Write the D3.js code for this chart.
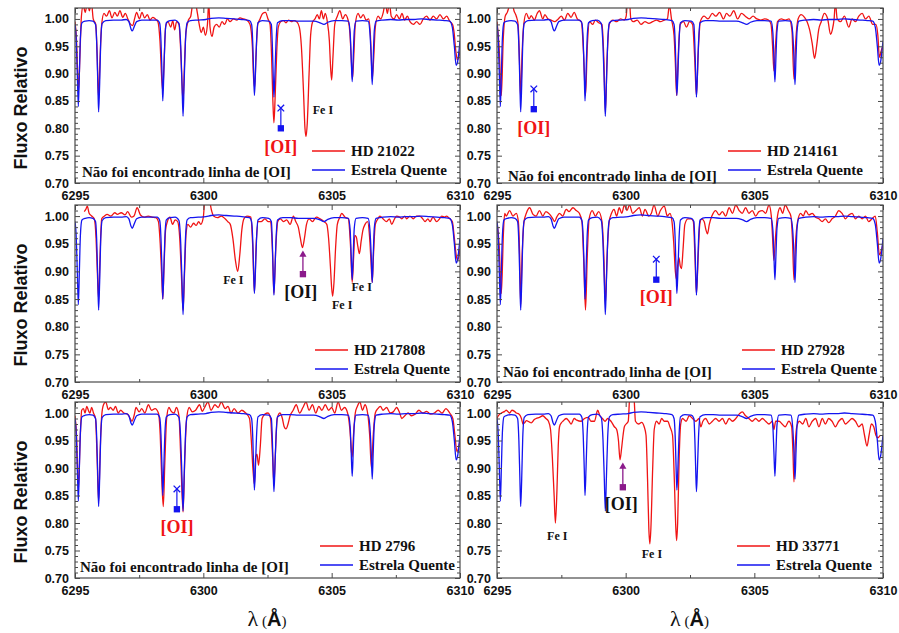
<!DOCTYPE html>
<html>
<head>
<meta charset="utf-8">
<script src="https://cdn.jsdelivr.net/npm/d3@7"></script>
<style>
  html, body { margin: 0; padding: 0; background: #fff; }
  svg { display: block; }
</style>
</head>
<body>
<svg id="chart" width="899" height="633"></svg>
<script>
// ---------------- DATA ----------------
const wavelengthTicks = [6295, 6300, 6305, 6310];
const wavelengthMinorTicks = [6297.5, 6302.5, 6307.5];
const fluxTicks = [0.70, 0.75, 0.80, 0.85, 0.90, 0.95, 1.00];
const starNames = ["HD 21022", "HD 214161", "HD 217808", "HD 27928", "HD 2796", "HD 33771"];
const hotStarName = "Estrela Quente";
const notFoundText = "Não foi encontrado linha de [OI]";
const notFoundPanels = [true, true, false, true, true, false];

// Hot star (telluric reference) spectrum: [wavelength, relative flux]
const hotStar = [
 [6295.00,0.990],[6295.05,0.960],[6295.09,0.900],[6295.13,0.840],[6295.17,0.900],[6295.21,0.965],[6295.27,0.993],
 [6295.40,0.996],[6295.55,0.997],[6295.70,0.996],[6295.80,0.990],[6295.85,0.950],[6295.89,0.880],[6295.92,0.830],
 [6295.96,0.880],[6296.00,0.955],[6296.06,0.992],[6296.20,0.997],[6296.50,0.998],[6296.80,0.998],[6297.00,0.999],
 [6297.10,0.995],[6297.18,0.982],[6297.23,0.978],[6297.30,0.985],[6297.40,0.995],[6297.60,0.998],[6297.90,0.998],
 [6298.20,0.998],[6298.30,0.992],[6298.35,0.960],[6298.39,0.900],[6298.42,0.850],[6298.46,0.900],[6298.50,0.960],
 [6298.56,0.993],[6298.70,0.997],[6298.90,0.998],[6299.05,0.992],[6299.12,0.950],[6299.17,0.880],[6299.21,0.822],
 [6299.25,0.880],[6299.30,0.955],[6299.37,0.993],[6299.50,0.997],[6299.80,0.998],[6300.10,0.999],[6300.30,1.001],
 [6300.60,1.002],[6300.90,1.001],[6301.20,1.000],[6301.50,0.999],[6301.80,0.997],[6301.88,0.990],[6301.93,0.950],
 [6301.96,0.900],[6301.99,0.860],[6302.03,0.900],[6302.07,0.955],[6302.13,0.993],[6302.30,0.997],[6302.55,0.996],
 [6302.65,0.990],[6302.69,0.950],[6302.72,0.900],[6302.75,0.857],[6302.79,0.900],[6302.83,0.955],[6302.89,0.993],
 [6303.10,0.997],[6303.40,0.997],[6303.70,0.996],[6304.00,0.996],[6304.30,0.996],[6304.55,0.993],[6304.70,0.990],
 [6304.85,0.994],[6305.10,0.997],[6305.40,0.997],[6305.65,0.996],[6305.72,0.975],[6305.76,0.930],[6305.80,0.885],
 [6305.84,0.930],[6305.88,0.978],[6305.95,0.996],[6306.20,0.997],[6306.42,0.996],[6306.49,0.975],[6306.54,0.930],
 [6306.58,0.880],[6306.62,0.930],[6306.66,0.978],[6306.73,0.996],[6307.00,0.998],[6307.30,0.999],[6307.60,0.998],
 [6307.90,0.999],[6308.20,0.999],[6308.50,1.000],[6308.80,0.999],[6309.10,0.998],[6309.40,0.997],[6309.60,0.996],
 [6309.70,0.985],[6309.78,0.950],[6309.85,0.915],[6309.90,0.920],[6310.00,0.960]
];

const hd21022 = [
 [6295.00,0.995],[6295.06,0.96],[6295.12,0.88],[6295.14,0.87],[6295.19,0.93],[6295.25,1.005],[6295.32,1.025],
 [6295.40,1.012],[6295.48,1.03],[6295.56,1.015],[6295.64,1.03],[6295.71,1.0],[6295.81,0.99],[6295.86,0.94],
 [6295.92,0.855],[6295.97,0.92],[6296.04,0.99],[6296.13,1.01],[6296.23,1.005],[6296.34,1.015],[6296.44,1.002],
 [6296.55,1.012],[6296.65,1.005],[6296.75,1.015],[6296.86,1.003],[6296.96,1.01],[6297.06,1.0],[6297.17,0.99],
 [6297.25,0.988],[6297.32,1.0],[6297.40,1.012],[6297.51,1.0],[6297.61,1.012],[6297.71,1.002],[6297.82,1.008],
 [6297.92,0.998],[6298.03,1.003],[6298.13,1.0],[6298.23,0.995],[6298.31,0.96],[6298.38,0.89],[6298.42,0.868],
 [6298.47,0.92],[6298.53,0.985],[6298.62,0.995],[6298.73,0.985],[6298.81,0.997],[6298.88,0.98],[6298.96,0.995],
 [6299.05,0.99],[6299.12,0.94],[6299.18,0.87],[6299.21,0.85],[6299.26,0.91],[6299.32,0.975],[6299.42,0.998],
 [6299.51,1.005],[6299.58,1.025],[6299.68,1.03],[6299.77,1.01],[6299.84,0.99],[6299.92,0.975],[6300.00,0.985],
 [6300.08,0.97],[6300.16,0.99],[6300.21,1.03],[6300.26,0.985],[6300.34,0.968],[6300.42,0.985],[6300.52,0.99],
 [6300.62,0.985],[6300.73,0.995],[6300.83,0.99],[6300.94,1.0],[6301.04,0.995],[6301.17,1.0],[6301.30,0.998],
 [6301.43,1.002],[6301.56,1.0],[6301.69,0.998],[6301.82,0.99],[6301.91,0.95],[6301.96,0.89],[6302.00,0.875],
 [6302.05,0.93],[6302.12,0.99],[6302.21,1.0],[6302.31,1.01],[6302.42,1.012],[6302.52,1.0],[6302.60,0.99],
 [6302.66,0.93],[6302.71,0.85],[6302.75,0.81],[6302.80,0.86],[6302.86,0.94],[6302.92,0.985],[6303.01,0.995],
 [6303.12,0.997],[6303.22,0.993],[6303.32,0.998],[6303.43,0.995],[6303.53,0.997],[6303.64,0.995],[6303.74,0.985],
 [6303.82,0.95],[6303.90,0.87],[6303.96,0.80],[6304.00,0.785],[6304.05,0.81],[6304.12,0.9],[6304.18,0.97],
 [6304.26,0.995],[6304.35,1.0],[6304.44,1.008],[6304.52,1.0],[6304.60,1.015],[6304.68,1.0],[6304.75,1.01],
 [6304.83,0.995],[6304.91,0.96],[6304.96,0.91],[6305.00,0.888],[6305.05,0.93],[6305.12,0.99],[6305.22,1.005],
 [6305.32,1.015],[6305.43,1.0],[6305.53,1.008],[6305.64,0.998],[6305.71,0.975],[6305.77,0.92],[6305.81,0.89],
 [6305.86,0.93],[6305.92,0.99],[6306.03,1.01],[6306.13,1.002],[6306.23,1.008],[6306.34,0.998],[6306.44,1.0],
 [6306.51,0.97],[6306.56,0.91],[6306.58,0.89],[6306.64,0.93],[6306.70,0.985],[6306.81,1.005],[6306.91,1.0],
 [6307.01,1.012],[6307.09,1.03],[6307.17,1.01],[6307.25,1.03],[6307.32,1.005],[6307.43,1.0],[6307.53,1.008],
 [6307.64,1.0],[6307.74,1.01],[6307.84,0.998],[6307.95,1.005],[6308.05,0.995],[6308.18,0.99],[6308.31,0.995],
 [6308.44,0.99],[6308.57,1.0],[6308.70,1.005],[6308.83,0.998],[6308.96,1.005],[6309.09,1.0],[6309.22,1.008],
 [6309.35,1.0],[6309.48,1.005],[6309.61,0.995],[6309.71,0.99],[6309.77,0.975],[6309.84,0.94],[6309.90,0.925],
 [6310.00,0.94]
];

const hd214161 = [
 [6295.00,0.995],[6295.08,0.95],[6295.17,0.86],[6295.24,0.96],[6295.32,1.005],[6295.40,1.012],[6295.49,1.025],
 [6295.58,1.03],[6295.66,1.015],[6295.75,1.005],[6295.82,0.99],[6295.87,0.93],[6295.92,0.855],[6295.97,0.93],
 [6296.04,0.99],[6296.14,1.01],[6296.25,1.0],[6296.33,1.006],[6296.45,0.998],[6296.56,1.01],[6296.65,1.015],
 [6296.78,1.0],[6296.86,1.008],[6296.98,1.0],[6297.10,0.998],[6297.24,0.995],[6297.38,1.0],[6297.50,1.005],
 [6297.62,0.998],[6297.75,1.01],[6297.88,1.003],[6298.00,1.012],[6298.12,1.0],[6298.28,0.995],[6298.36,0.94],
 [6298.44,0.86],[6298.51,0.95],[6298.60,0.995],[6298.72,0.99],[6298.82,0.998],[6298.95,0.993],[6299.08,0.99],
 [6299.15,0.93],[6299.21,0.83],[6299.28,0.93],[6299.36,0.99],[6299.50,0.998],[6299.65,0.995],[6299.80,1.0],
 [6299.95,0.998],[6300.02,1.005],[6300.07,1.03],[6300.15,1.03],[6300.20,1.0],[6300.30,0.995],[6300.45,0.998],
 [6300.60,0.99],[6300.75,0.995],[6300.90,0.992],[6301.05,0.995],[6301.20,0.998],[6301.35,0.995],[6301.50,0.998],
 [6301.62,1.0],[6301.70,1.025],[6301.78,1.0],[6301.88,0.97],[6301.93,0.92],[6301.98,0.86],[6302.04,0.93],
 [6302.12,0.99],[6302.25,0.995],[6302.36,0.985],[6302.48,0.995],[6302.60,0.99],[6302.68,0.93],[6302.75,0.86],
 [6302.82,0.94],[6302.90,0.995],[6303.05,1.005],[6303.20,1.0],[6303.37,1.01],[6303.50,1.005],[6303.65,1.012],
 [6303.80,1.0],[6303.92,1.01],[6304.05,1.005],[6304.20,1.015],[6304.35,1.0],[6304.50,1.01],[6304.65,1.005],
 [6304.80,1.0],[6304.95,1.005],[6305.10,1.0],[6305.25,0.998],[6305.40,1.0],[6305.55,0.998],[6305.65,0.99],
 [6305.71,0.95],[6305.76,0.905],[6305.82,0.95],[6305.90,0.995],[6306.05,1.0],[6306.20,0.998],[6306.35,1.0],
 [6306.46,0.98],[6306.54,0.89],[6306.61,0.96],[6306.70,1.0],[6306.82,1.008],[6306.95,1.003],[6307.05,0.995],
 [6307.15,0.98],[6307.25,0.955],[6307.34,0.928],[6307.42,0.95],[6307.50,0.98],[6307.60,0.995],[6307.72,1.01],
 [6307.85,1.0],[6307.96,0.972],[6308.03,0.98],[6308.10,1.0],[6308.15,1.03],[6308.22,1.0],[6308.35,0.995],
 [6308.50,1.005],[6308.67,0.985],[6308.80,1.0],[6308.93,0.995],[6309.06,1.005],[6309.19,1.01],[6309.32,1.0],
 [6309.45,1.005],[6309.60,0.99],[6309.72,0.99],[6309.80,0.97],[6309.86,0.93],[6309.95,0.945],[6310.00,0.95]
];

const hd217808 = [
 [6295.36,1.008],[6295.42,1.012],[6295.48,1.018],[6295.55,1.005],[6295.65,1.0],[6295.75,0.995],[6295.82,0.96],
 [6295.87,0.90],[6295.92,0.85],[6295.97,0.92],[6296.04,0.995],[6296.15,1.0],[6296.25,1.003],[6296.40,1.0],
 [6296.55,1.006],[6296.65,1.003],[6296.80,1.006],[6296.95,1.002],[6297.05,1.008],[6297.20,0.998],[6297.30,1.0],
 [6297.42,1.015],[6297.55,1.002],[6297.70,0.998],[6297.85,1.0],[6298.00,0.998],[6298.15,0.997],[6298.25,0.99],
 [6298.32,0.95],[6298.38,0.89],[6298.42,0.85],[6298.47,0.91],[6298.53,0.975],[6298.60,0.99],[6298.70,0.998],
 [6298.80,0.985],[6298.90,0.993],[6299.00,0.99],[6299.08,0.96],[6299.14,0.90],[6299.21,0.83],[6299.27,0.90],
 [6299.33,0.97],[6299.40,0.985],[6299.50,0.98],[6299.62,0.987],[6299.72,0.983],[6299.82,0.99],[6299.90,0.985],
 [6300.00,0.998],[6300.06,1.03],[6300.20,1.035],[6300.32,1.01],[6300.40,1.0],[6300.55,0.997],[6300.70,1.0],
 [6300.85,0.995],[6300.95,0.99],[6301.05,0.985],[6301.15,0.96],[6301.25,0.92],[6301.34,0.90],[6301.42,0.93],
 [6301.50,0.975],[6301.58,0.995],[6301.70,1.0],[6301.85,0.998],[6301.92,0.95],[6301.99,0.862],[6302.06,0.95],
 [6302.14,0.99],[6302.25,0.99],[6302.40,0.995],[6302.52,0.99],[6302.62,0.99],[6302.69,0.94],[6302.75,0.86],
 [6302.82,0.94],[6302.90,0.99],[6303.00,0.995],[6303.12,0.99],[6303.25,0.993],[6303.38,0.985],[6303.51,1.0],
 [6303.60,0.99],[6303.70,0.98],[6303.78,0.96],[6303.86,0.943],[6303.94,0.96],[6304.02,0.985],[6304.12,0.995],
 [6304.25,0.99],[6304.40,0.998],[6304.55,0.995],[6304.70,0.99],[6304.81,0.985],[6304.88,0.96],[6304.95,0.91],
 [6305.00,0.87],[6305.04,0.855],[6305.09,0.88],[6305.15,0.94],[6305.22,0.985],[6305.32,0.998],[6305.39,1.005],
 [6305.52,0.998],[6305.65,0.995],[6305.73,0.95],[6305.80,0.88],[6305.86,0.93],[6305.90,0.965],[6305.96,0.962],
 [6306.02,0.945],[6306.08,0.932],[6306.15,0.955],[6306.22,0.975],[6306.30,0.985],[6306.40,0.99],[6306.48,0.96],
 [6306.53,0.92],[6306.58,0.88],[6306.63,0.93],[6306.70,0.985],[6306.80,0.995],[6306.88,1.0],[6307.00,0.995],
 [6307.14,0.99],[6307.25,0.995],[6307.34,0.985],[6307.45,0.995],[6307.53,1.0],[6307.65,0.998],[6307.73,0.995],
 [6307.85,1.0],[6307.92,0.995],[6308.05,1.0],[6308.18,0.995],[6308.30,1.0],[6308.44,1.0],[6308.55,0.995],
 [6308.64,0.99],[6308.75,0.995],[6308.83,0.99],[6308.95,0.998],[6309.09,0.99],[6309.20,0.995],[6309.29,1.0],
 [6309.40,0.998],[6309.48,1.0],[6309.60,0.995],[6309.70,0.99],[6309.78,0.96],[6309.85,0.93],[6309.91,0.92],
 [6310.00,0.94]
];

const hd27928 = [
 [6295.00,0.99],[6295.08,0.95],[6295.17,0.86],[6295.25,0.97],[6295.30,1.005],[6295.36,1.0],[6295.49,1.01],
 [6295.62,1.0],[6295.75,1.005],[6295.83,0.99],[6295.88,0.93],[6295.92,0.84],[6295.97,0.92],[6296.05,0.99],
 [6296.14,1.005],[6296.27,1.015],[6296.40,1.003],[6296.52,1.0],[6296.65,1.01],[6296.78,1.0],[6296.90,1.008],
 [6297.05,1.003],[6297.17,0.995],[6297.24,0.99],[6297.32,0.998],[6297.43,1.005],[6297.55,1.0],[6297.69,1.012],
 [6297.80,1.008],[6297.95,1.015],[6298.08,1.01],[6298.20,1.005],[6298.30,0.99],[6298.37,0.92],[6298.44,0.83],
 [6298.51,0.93],[6298.58,0.995],[6298.70,1.01],[6298.82,1.0],[6298.95,1.008],[6299.08,0.99],[6299.15,0.93],
 [6299.21,0.84],[6299.28,0.93],[6299.36,0.99],[6299.45,1.005],[6299.55,1.012],[6299.65,1.0],[6299.75,1.015],
 [6299.85,1.005],[6299.95,1.02],[6300.05,1.01],[6300.15,1.02],[6300.27,1.005],[6300.40,1.01],[6300.53,1.015],
 [6300.65,1.0],[6300.75,1.012],[6300.90,1.0],[6301.00,1.005],[6301.10,1.02],[6301.25,1.0],[6301.35,1.01],
 [6301.50,1.018],[6301.62,1.0],[6301.72,1.005],[6301.80,0.99],[6301.87,0.95],[6301.93,0.90],[6301.98,0.885],
 [6302.02,0.91],[6302.07,0.925],[6302.12,0.91],[6302.17,0.905],[6302.23,0.94],[6302.30,0.985],[6302.42,0.995],
 [6302.55,0.995],[6302.63,0.99],[6302.69,0.93],[6302.75,0.86],[6302.82,0.93],[6302.88,0.985],[6302.95,0.995],
 [6303.05,0.99],[6303.12,0.975],[6303.18,0.968],[6303.25,0.985],[6303.35,1.0],[6303.50,1.01],[6303.63,1.002],
 [6303.76,1.008],[6303.89,1.0],[6304.02,1.015],[6304.15,1.005],[6304.28,1.02],[6304.41,1.01],[6304.53,1.005],
 [6304.66,1.015],[6304.79,1.005],[6304.92,1.01],[6305.05,1.0],[6305.18,1.008],[6305.31,1.01],[6305.44,1.005],
 [6305.57,1.02],[6305.66,1.0],[6305.71,0.96],[6305.76,0.92],[6305.82,0.96],[6305.90,1.0],[6306.00,1.015],
 [6306.10,1.005],[6306.20,1.02],[6306.32,1.01],[6306.42,1.0],[6306.48,0.96],[6306.54,0.885],[6306.60,0.95],
 [6306.68,0.99],[6306.80,1.005],[6306.90,1.0],[6307.00,1.01],[6307.12,1.002],[6307.25,1.005],[6307.38,0.998],
 [6307.51,0.995],[6307.64,0.99],[6307.76,0.995],[6307.89,0.988],[6308.02,0.995],[6308.15,1.0],[6308.28,1.01],
 [6308.41,1.005],[6308.54,0.995],[6308.67,1.002],[6308.80,1.005],[6308.93,0.995],[6309.06,1.0],[6309.19,0.995],
 [6309.32,1.0],[6309.44,0.99],[6309.57,0.995],[6309.70,1.0],[6309.78,0.97],[6309.86,0.93],[6309.95,0.94],
 [6310.00,0.95]
];

const hd2796 = [
 [6295.00,0.995],[6295.06,0.96],[6295.13,0.86],[6295.20,0.95],[6295.26,1.005],[6295.33,1.008],[6295.39,1.0],
 [6295.46,1.012],[6295.52,1.005],[6295.58,1.0],[6295.65,1.01],[6295.72,1.0],[6295.80,0.99],[6295.86,0.92],
 [6295.92,0.84],[6295.98,0.93],[6296.04,0.995],[6296.11,1.015],[6296.20,1.02],[6296.30,1.006],[6296.38,1.01],
 [6296.49,1.005],[6296.58,1.012],[6296.68,1.0],[6296.78,1.005],[6296.90,1.0],[6297.05,0.998],[6297.15,0.99],
 [6297.22,0.985],[6297.30,0.995],[6297.38,1.01],[6297.50,1.002],[6297.60,1.008],[6297.72,1.0],[6297.86,1.015],
 [6297.98,1.005],[6298.12,1.008],[6298.25,1.0],[6298.32,0.96],[6298.38,0.88],[6298.44,0.83],[6298.50,0.91],
 [6298.57,0.99],[6298.66,1.01],[6298.75,1.003],[6298.86,1.0],[6298.95,1.01],[6299.05,0.995],[6299.12,0.92],
 [6299.21,0.82],[6299.28,0.92],[6299.35,0.99],[6299.45,1.01],[6299.57,1.002],[6299.70,1.005],[6299.85,1.015],
 [6299.96,1.003],[6300.05,1.01],[6300.18,1.02],[6300.30,1.005],[6300.45,1.015],[6300.58,1.01],[6300.70,1.02],
 [6300.85,1.008],[6300.96,1.012],[6301.08,1.0],[6301.20,1.008],[6301.35,1.0],[6301.50,1.005],[6301.65,1.0],
 [6301.80,0.99],[6301.87,0.95],[6301.93,0.90],[6301.99,0.87],[6302.04,0.92],[6302.09,0.925],[6302.15,0.905],
 [6302.22,0.94],[6302.29,0.99],[6302.40,0.998],[6302.52,1.0],[6302.62,0.99],[6302.69,0.93],[6302.75,0.87],
 [6302.81,0.93],[6302.88,0.99],[6302.98,1.0],[6303.08,0.99],[6303.15,0.975],[6303.22,0.971],[6303.30,0.98],
 [6303.38,0.995],[6303.50,1.005],[6303.62,1.015],[6303.75,1.0],[6303.88,1.01],[6304.00,1.02],[6304.12,1.005],
 [6304.25,1.015],[6304.38,1.0],[6304.50,1.012],[6304.62,1.005],[6304.75,1.015],[6304.88,1.005],[6305.00,1.01],
 [6305.12,1.0],[6305.25,1.02],[6305.38,1.005],[6305.50,1.01],[6305.62,1.0],[6305.71,0.97],[6305.77,0.93],
 [6305.80,0.92],[6305.85,0.96],[6305.92,1.0],[6306.00,1.012],[6306.10,1.02],[6306.20,1.005],[6306.30,1.015],
 [6306.40,1.0],[6306.48,0.96],[6306.55,0.90],[6306.62,0.96],[6306.70,1.0],[6306.80,1.008],[6306.90,1.012],
 [6307.00,1.005],[6307.14,1.01],[6307.28,1.0],[6307.40,1.002],[6307.53,1.01],[6307.65,1.0],[6307.73,0.99],
 [6307.85,0.995],[6307.98,1.0],[6308.10,0.995],[6308.25,0.998],[6308.40,1.005],[6308.55,1.0],[6308.70,1.003],
 [6308.85,0.998],[6309.00,1.0],[6309.15,1.005],[6309.30,1.0],[6309.45,1.008],[6309.60,1.0],[6309.72,0.99],
 [6309.80,0.96],[6309.88,0.93],[6310.00,0.95]
];

const hd33771 = [
 [6295.00,0.99],[6295.05,0.995],[6295.17,1.0],[6295.30,1.003],[6295.36,1.005],[6295.49,1.0],[6295.58,1.005],
 [6295.68,1.003],[6295.75,1.0],[6295.85,0.998],[6295.95,0.99],[6296.01,0.98],[6296.07,0.982],[6296.14,0.986],
 [6296.25,0.984],[6296.33,0.982],[6296.45,0.988],[6296.52,0.99],[6296.65,0.992],[6296.78,0.995],[6296.90,0.99],
 [6297.00,0.985],[6297.08,0.97],[6297.15,0.92],[6297.22,0.85],[6297.27,0.80],[6297.33,0.86],[6297.38,0.94],
 [6297.43,0.975],[6297.50,0.982],[6297.56,0.985],[6297.69,0.99],[6297.80,0.985],[6297.88,0.98],[6298.00,0.99],
 [6298.10,0.987],[6298.27,0.985],[6298.40,0.99],[6298.55,0.992],[6298.65,0.985],[6298.79,0.985],[6298.91,1.005],
 [6299.00,0.995],[6299.10,0.99],[6299.20,0.985],[6299.30,0.99],[6299.43,0.985],[6299.56,0.975],[6299.65,0.97],
 [6299.72,0.95],[6299.78,0.915],[6299.84,0.935],[6299.90,0.96],[6299.95,0.975],[6300.02,0.98],[6300.10,0.985],
 [6300.16,1.03],[6300.25,1.035],[6300.32,1.03],[6300.38,0.985],[6300.50,0.98],[6300.62,0.983],[6300.72,0.975],
 [6300.79,0.96],[6300.85,0.88],[6300.90,0.79],[6300.94,0.762],[6300.98,0.79],[6301.05,0.90],[6301.11,0.97],
 [6301.20,0.985],[6301.30,0.98],[6301.40,0.99],[6301.50,0.985],[6301.63,0.985],[6301.72,0.975],[6301.82,0.96],
 [6301.89,0.88],[6301.95,0.79],[6301.98,0.768],[6302.02,0.80],[6302.08,0.92],[6302.14,0.98],[6302.21,0.99],
 [6302.35,0.985],[6302.47,0.995],[6302.60,0.99],[6302.73,0.985],[6302.85,0.99],[6302.92,0.975],[6303.00,0.985],
 [6303.11,0.99],[6303.25,0.98],[6303.37,0.985],[6303.50,0.99],[6303.63,0.985],[6303.76,0.99],[6303.89,0.98],
 [6304.02,0.99],[6304.15,0.985],[6304.28,0.99],[6304.41,0.998],[6304.53,1.002],[6304.66,0.995],[6304.79,0.99],
 [6304.92,0.985],[6305.05,0.99],[6305.18,0.985],[6305.31,0.99],[6305.44,0.985],[6305.57,0.98],[6305.70,0.985],
 [6305.76,0.97],[6305.83,0.985],[6305.96,0.985],[6306.08,0.98],[6306.20,0.975],[6306.34,0.985],[6306.45,0.975],
 [6306.50,0.93],[6306.54,0.875],[6306.58,0.93],[6306.65,0.975],[6306.75,0.985],[6306.88,0.98],[6307.00,0.99],
 [6307.12,0.975],[6307.25,0.985],[6307.38,0.99],[6307.51,0.975],[6307.64,0.99],[6307.76,0.98],[6307.89,0.99],
 [6308.02,0.985],[6308.15,0.975],[6308.28,0.985],[6308.41,0.99],[6308.54,0.98],[6308.67,0.985],[6308.80,0.99],
 [6308.93,0.985],[6309.06,0.975],[6309.19,0.98],[6309.28,0.96],[6309.38,0.94],[6309.46,0.96],[6309.55,0.98],
 [6309.64,0.975],[6309.72,0.96],[6309.80,0.955],[6309.90,0.96]
];

const starSpectra = [hd21022, hd214161, hd217808, hd27928, hd2796, hd33771];

// [OI] markers per panel
const oiDetected   = [false, false, true, false, false, true];
const oiLambda     = [6303.02, 6296.43, 6303.88, 6301.19, 6298.97, 6299.89];
const oiLowFlux    = [0.800, 0.835, 0.895, 0.885, 0.825, 0.865];
const oiHighFlux   = [0.837, 0.872, 0.934, 0.922, 0.862, 0.906];
const oiLabelLambda = [6303.02, 6296.43, 6303.80, 6301.19, 6298.97, 6299.83];
const oiLabelFlux  = [0.766, 0.801, 0.863, 0.854, 0.794, 0.836];

// Fe I labels: [panel, wavelength, flux]
const feLabels = [
  [0, 6304.66, 0.833],
  [2, 6301.17, 0.884], [2, 6305.41, 0.840], [2, 6306.17, 0.872],
  [5, 6297.34, 0.7775], [5, 6301.02, 0.744]
];

// ---------------- LAYOUT ----------------
const svg = d3.select("#chart");
const cols = [{x: 75, w: 385}, {x: 497, w: 386}];
const rows = [{y: 8, h: 175}, {y: 205, h: 177}, {y: 402, h: 176}];
const legendX = [237, 231, 240, 245, 245, 240];
const notFoundPos = [[7, -11], [11, -7], null, [6, -10], [5, -11], null];

const SERIF = "'Liberation Serif', 'Times New Roman', serif";
const SANS = "'Liberation Sans', Arial, sans-serif";
const RED = "#f01414";
const BLUE = "#1414f0";
const PURPLE = "#8b1a8b";
const FRAME = "#4a4a4a";

starSpectra.forEach((spec, i) => {
  const c = cols[i % 2], r = rows[Math.floor(i / 2)];
  const x = d3.scaleLinear().domain([6295, 6310]).range([c.x, c.x + c.w]);
  const y = d3.scaleLinear().domain([0.70, 1.02]).range([r.y + r.h, r.y]);
  const g = svg.append("g");

  const clipId = "clip" + i;
  svg.append("defs").append("clipPath").attr("id", clipId)
    .append("rect").attr("x", c.x).attr("y", r.y).attr("width", c.w).attr("height", r.h);

  const line = d3.line().x(d => x(d[0])).y(d => y(d[1])).curve(d3.curveMonotoneX);
  const plot = g.append("g").attr("clip-path", `url(#${clipId})`);
  plot.append("path").datum(spec).attr("d", line)
    .attr("fill", "none").attr("stroke", RED).attr("stroke-width", 1.3);
  plot.append("path").datum(hotStar).attr("d", line)
    .attr("fill", "none").attr("stroke", BLUE).attr("stroke-width", 1.3);

  // axes
  const styleAxis = sel => {
    sel.select(".domain").remove();
    sel.selectAll("line").attr("stroke", FRAME);
    sel.selectAll("text").attr("font-family", SANS).attr("font-weight", "bold")
      .attr("font-size", 12.5).attr("fill", "#111");
  };
  g.append("g").attr("transform", `translate(0,${r.y + r.h})`)
    .call(d3.axisBottom(x).tickValues(wavelengthTicks).tickFormat(d3.format("d")).tickSize(-5).tickPadding(8))
    .call(styleAxis);
  g.append("g").attr("transform", `translate(0,${r.y + r.h})`)
    .call(d3.axisBottom(x).tickValues(wavelengthMinorTicks).tickFormat("").tickSize(-3))
    .call(styleAxis);
  g.append("g").attr("transform", `translate(0,${r.y})`)
    .call(d3.axisTop(x).tickValues(wavelengthTicks).tickFormat("").tickSize(-5))
    .call(styleAxis);
  g.append("g").attr("transform", `translate(0,${r.y})`)
    .call(d3.axisTop(x).tickValues(wavelengthMinorTicks).tickFormat("").tickSize(-3))
    .call(styleAxis);

  const minorFlux = d3.range(70, 103).filter(v => v % 5 !== 0).map(v => v / 100);
  g.append("g").attr("transform", `translate(${c.x},0)`)
    .call(d3.axisLeft(y).tickValues(fluxTicks).tickFormat(d3.format(".2f")).tickSize(-5).tickPadding(6))
    .call(styleAxis);
  g.append("g").attr("transform", `translate(${c.x},0)`)
    .call(d3.axisLeft(y).tickValues(minorFlux).tickFormat("").tickSize(-3))
    .call(styleAxis);
  g.append("g").attr("transform", `translate(${c.x + c.w},0)`)
    .call(d3.axisRight(y).tickValues(fluxTicks).tickFormat("").tickSize(-5))
    .call(styleAxis);
  g.append("g").attr("transform", `translate(${c.x + c.w},0)`)
    .call(d3.axisRight(y).tickValues(minorFlux).tickFormat("").tickSize(-3))
    .call(styleAxis);

  g.append("rect").attr("x", c.x).attr("y", r.y).attr("width", c.w).attr("height", r.h)
    .attr("fill", "none").attr("stroke", FRAME).attr("stroke-width", 1.2);

  // [OI] marker
  const mx = x(oiLambda[i]);
  if (oiDetected[i]) {
    g.append("line").attr("x1", mx).attr("x2", mx)
      .attr("y1", y(oiLowFlux[i])).attr("y2", y(oiHighFlux[i]) + 3)
      .attr("stroke", PURPLE).attr("stroke-width", 1.3);
    g.append("path").attr("d", d3.symbol(d3.symbolTriangle).size(22)())
      .attr("transform", `translate(${mx},${y(oiHighFlux[i]) + 2})`).attr("fill", PURPLE);
    g.append("path").attr("d", d3.symbol(d3.symbolSquare).size(40)())
      .attr("transform", `translate(${mx},${y(oiLowFlux[i])})`).attr("fill", PURPLE);
  } else {
    g.append("line").attr("x1", mx).attr("x2", mx)
      .attr("y1", y(oiLowFlux[i])).attr("y2", y(oiHighFlux[i]))
      .attr("stroke", BLUE).attr("stroke-width", 1.2);
    g.append("path").attr("d", d3.symbol(d3.symbolTimes).size(30)())
      .attr("transform", `translate(${mx},${y(oiHighFlux[i])})`)
      .attr("fill", "none").attr("stroke", BLUE).attr("stroke-width", 1.3);
    g.append("path").attr("d", d3.symbol(d3.symbolSquare).size(40)())
      .attr("transform", `translate(${mx},${y(oiLowFlux[i])})`).attr("fill", BLUE);
  }
  g.append("text").attr("x", x(oiLabelLambda[i])).attr("y", y(oiLabelFlux[i]))
    .attr("dy", "0.35em").attr("text-anchor", "middle")
    .attr("font-family", SERIF).attr("font-weight", "bold").attr("font-size", 18)
    .attr("fill", oiDetected[i] ? "#111" : RED).text("[OI]");

  // Fe I labels
  feLabels.filter(f => f[0] === i).forEach(f => {
    g.append("text").attr("x", x(f[1])).attr("y", y(f[2])).attr("dy", "0.35em")
      .attr("text-anchor", "middle").attr("font-family", SERIF).attr("font-weight", "bold")
      .attr("font-size", 12).attr("fill", "#111").text("Fe I");
  });

  // legend
  const lx = c.x + legendX[i];
  const bottom = r.y + r.h;
  [[starNames[i], RED, -32], [hotStarName, BLUE, -13]].forEach(([name, col, dyy]) => {
    g.append("line").attr("x1", lx).attr("x2", lx + 33)
      .attr("y1", bottom + dyy).attr("y2", bottom + dyy)
      .attr("stroke", col).attr("stroke-width", 1.5);
    g.append("text").attr("x", lx + 39).attr("y", bottom + dyy).attr("dy", "0.35em")
      .attr("font-family", SERIF).attr("font-weight", "bold").attr("font-size", 15)
      .attr("fill", "#111").text(name);
  });

  if (notFoundPanels[i]) {
    const p = notFoundPos[i];
    g.append("text").attr("x", c.x + p[0]).attr("y", bottom + p[1]).attr("dy", "0.35em")
      .attr("font-family", SERIF).attr("font-weight", "bold").attr("font-size", 15)
      .attr("fill", "#111").text(notFoundText);
  }
});

// Y axis titles
rows.forEach(r => {
  svg.append("text").attr("transform", `translate(27,${r.y + 100}) rotate(-90)`)
    .attr("text-anchor", "middle").attr("font-family", SANS).attr("font-weight", "bold")
    .attr("font-size", 18).attr("fill", "#111").text("Fluxo Relativo");
});

// X axis titles
cols.forEach(c => {
  const t = svg.append("text").attr("x", c.x + c.w / 2 - 0.5).attr("y", 626)
    .attr("text-anchor", "middle").attr("fill", "#111");
  t.append("tspan").attr("font-family", SERIF).attr("font-size", 22).text("λ");
  t.append("tspan").attr("font-family", SERIF).attr("font-size", 15).text(" (");
  t.append("tspan").attr("font-family", SANS).attr("font-weight", "bold").attr("font-size", 20).text("Å");
  t.append("tspan").attr("font-family", SERIF).attr("font-size", 15).text(")");
});
</script>
</body>
</html>
